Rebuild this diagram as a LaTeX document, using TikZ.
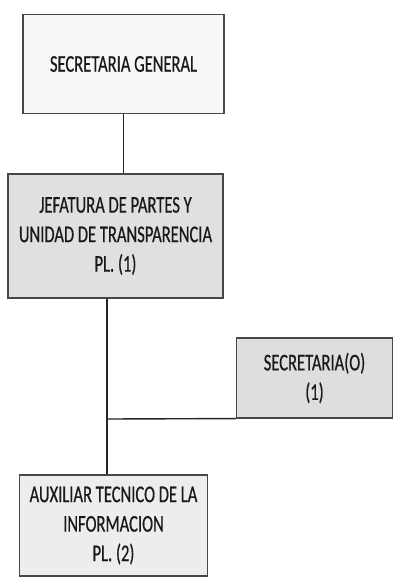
\documentclass[tikz,border=0pt]{standalone}
\usepackage{fontspec}
\setmainfont[FakeStretch=0.69,FakeBold=0.5]{Carlito}
\begin{document}
\begin{tikzpicture}[x=1pt,y=-1pt,
  box/.style={draw=black!72, line width=1.1pt, rectangle, inner sep=0pt, align=center, text=black!90,
    font=\fontsize{24}{29.5}\selectfont},
  link/.style={draw=black!85, line width=1.4pt}]
\useasboundingbox[fill=white] (0,0) rectangle (398,587);
\node[box, fill=black!3, minimum width=201pt, minimum height=99pt] (sg) at (123.5,64) {SECRETARIA GENERAL};
\node[box, fill=black!12, minimum width=215pt, minimum height=124pt] (jp) at (115.5,236) {JEFATURA DE PARTES Y\\UNIDAD DE TRANSPARENCIA\\PL. (1)};
\node[box, fill=black!13, minimum width=156pt, minimum height=80pt] (sc) at (314.5,378) {SECRETARIA(O)\\(1)};
\node[box, fill=black!7, minimum width=188pt, minimum height=101pt] (ax) at (113.5,525.5) {AUXILIAR TECNICO DE LA\\INFORMACION\\PL. (2)};
\coordinate (j) at (107,419);
\draw[link] (sg.south) -- (sg.south |- jp.north);
\draw[link] (jp.south -| j) -- (ax.north -| j);
\draw[link] (j) -- (sc.south west);
\end{tikzpicture}
\end{document}
